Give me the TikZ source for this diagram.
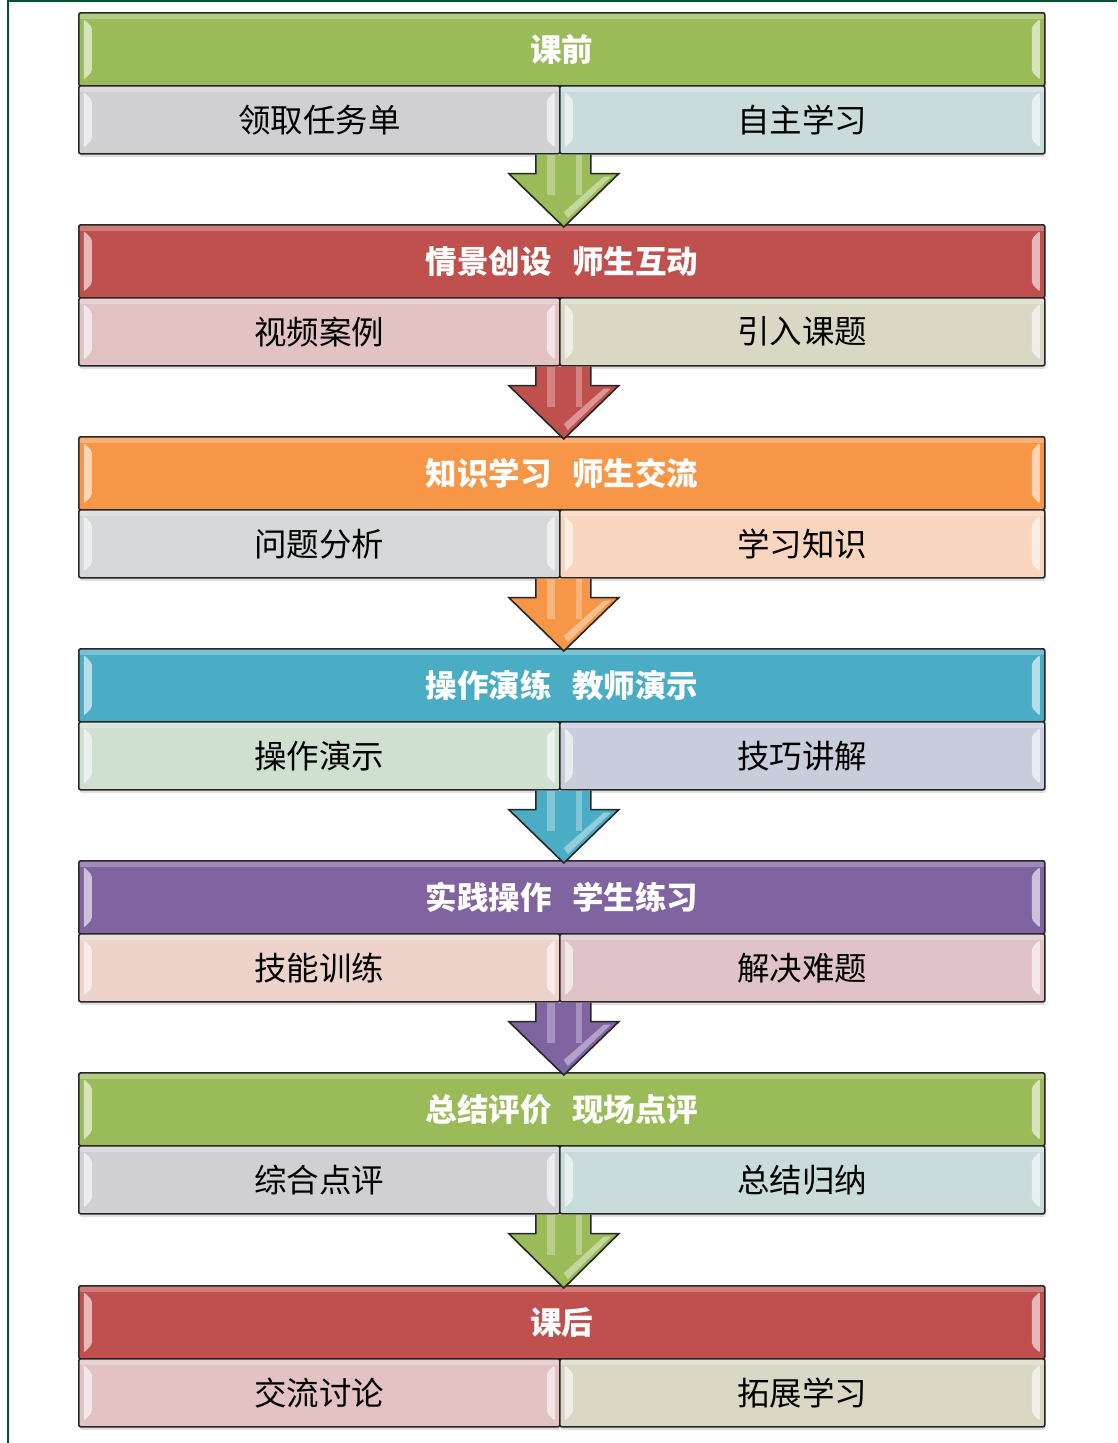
\documentclass[tikz,border=0pt]{standalone}
\usepackage{fontspec}
\newfontfamily\cjk{Noto Sans CJK SC}
\usetikzlibrary{shadows,calc}
\definecolor{hgreen}{HTML}{9BBB59}
\definecolor{hred}{HTML}{C0504D}
\definecolor{horange}{HTML}{F79646}
\definecolor{hblue}{HTML}{4BACC6}
\definecolor{hpurple}{HTML}{8064A2}
\definecolor{sgray}{HTML}{D0D0D2}
\definecolor{steal}{HTML}{C9DCDB}
\definecolor{spink}{HTML}{E2C2C2}
\definecolor{sbeige}{HTML}{DAD8C4}
\definecolor{sgray2}{HTML}{D5D8D8}
\definecolor{speach}{HTML}{F9D5BF}
\definecolor{smint}{HTML}{CFE0D1}
\definecolor{slav}{HTML}{C8CDDC}
\definecolor{srose}{HTML}{EED3CC}
\definecolor{smauve}{HTML}{E0C3C9}
\definecolor{frame}{HTML}{00552B}
\tikzset{
  glossy/.style={path picture={
    \fill[white,opacity=0.25] (path picture bounding box.north west) rectangle ([yshift=-6pt]path picture bounding box.north east);
    \fill[white,opacity=0.6] ([xshift=5pt,yshift=-6pt]path picture bounding box.north west) -- ([xshift=13pt,yshift=-14pt]path picture bounding box.north west) -- ([xshift=13pt,yshift=14pt]path picture bounding box.south west) -- ([xshift=5pt,yshift=6pt]path picture bounding box.south west) -- cycle;
    \fill[white,opacity=0.6] ([xshift=-5pt,yshift=-6pt]path picture bounding box.north east) -- ([xshift=-13pt,yshift=-14pt]path picture bounding box.north east) -- ([xshift=-13pt,yshift=14pt]path picture bounding box.south east) -- ([xshift=-5pt,yshift=6pt]path picture bounding box.south east) -- cycle;
  }},
  boxbase/.style={draw=black!85, line width=1.6pt, rounded corners=2pt, anchor=north west,
    inner sep=0pt, glossy, drop shadow={opacity=0.25, shadow xshift=1pt, shadow yshift=-3pt}},
  hdr/.style={boxbase, minimum width=966pt, minimum height=73pt, text=white,
    font=\cjk\bfseries\fontsize{31.5}{36}\selectfont},
  subl/.style={boxbase, minimum width=481pt, minimum height=68pt,
    font=\cjk\fontsize{32.5}{36}\selectfont},
  subr/.style={subl, minimum width=485pt},
  arrline/.style={draw=black!85, line width=1.6pt, line join=miter},
}
\newcommand\flowblock[8]{%
  \node[hdr, fill=#3] (#1h) at (78,#2) {#6};
  \node[subl, fill=#4] (#1l) at (78,#2+73) {#7};
  \node[subr, fill=#5] (#1r) at (559,#2+73) {#8};
}
\newcommand\flowarrow[3]{%
  \path let \p1=(#1l.south east), \p2=(#2h.north) in
    coordinate (#1a) at (\x2+2pt,\y1) coordinate (#1b) at (\x2+2pt,\y2-3pt);
  \fill[#3] ($(#1a)+(-28,0)$) -- ($(#1a)+(-28,19)$) -- ($(#1a)+(-55,19)$) -- (#1b)
    -- ($(#1a)+(55,19)$) -- ($(#1a)+(27,19)$) -- ($(#1a)+(27,0)$) -- cycle;
  \fill[white,opacity=0.3] ($(#1a)+(-17,0)$) rectangle ($(#1a)+(-9,40)$);
  \fill[white,opacity=0.3] ($(#1a)+(12,0)$) rectangle ($(#1a)+(18,40)$);
  \fill[white,opacity=0.4] ($(#1a)+(40,22)$) -- ($(#1a)+(47,22)$) -- ($(#1b)+(4,-9)$) -- ($(#1b)+(0,-15)$) -- cycle;
  \draw[arrline] ($(#1a)+(-28,0)$) -- ($(#1a)+(-28,19)$) -- ($(#1a)+(-55,19)$) -- (#1b)
    -- ($(#1a)+(55,19)$) -- ($(#1a)+(27,19)$) -- ($(#1a)+(27,0)$);
}
\begin{document}
\begin{tikzpicture}[x=1pt,y=-1pt]
\useasboundingbox (0,0) rectangle (1117,1443);
\draw[frame, line width=2pt] (8,1443) -- (8,1) -- (1117,1);
\flowblock{b1}{12}{hgreen}{sgray}{steal}{课前}{领取任务单}{自主学习}
\flowblock{b2}{224}{hred}{spink}{sbeige}{情景创设\hspace{0.65em}师生互动}{视频案例}{引入课题}
\flowblock{b3}{436}{horange}{sgray2}{speach}{知识学习\hspace{0.65em}师生交流}{问题分析}{学习知识}
\flowblock{b4}{648}{hblue}{smint}{slav}{操作演练\hspace{0.65em}教师演示}{操作演示}{技巧讲解}
\flowblock{b5}{860}{hpurple}{srose}{smauve}{实践操作\hspace{0.65em}学生练习}{技能训练}{解决难题}
\flowblock{b6}{1072}{hgreen}{sgray}{steal}{总结评价\hspace{0.65em}现场点评}{综合点评}{总结归纳}
\flowblock{b7}{1285}{hred}{spink}{sbeige}{课后}{交流讨论}{拓展学习}
\flowarrow{b1}{b2}{hgreen}
\flowarrow{b2}{b3}{hred}
\flowarrow{b3}{b4}{horange}
\flowarrow{b4}{b5}{hblue}
\flowarrow{b5}{b6}{hpurple}
\flowarrow{b6}{b7}{hgreen}
\end{tikzpicture}
\end{document}
